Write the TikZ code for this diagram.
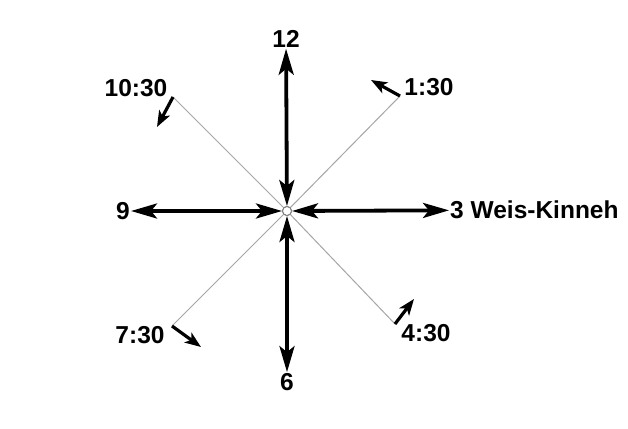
\documentclass[tikz,border=0pt]{standalone}
\usepackage{fontspec}
\setmainfont{Liberation Sans}
\usetikzlibrary{arrows.meta}

\begin{document}
\begin{tikzpicture}[x=1pt, y=-1pt,
    lbl/.style={font=\fontsize{24.5}{24.5}\selectfont\bfseries, inner sep=1pt},
    axis/.style={line width=3.8pt, {Stealth[length=26pt,width=15pt,inset=6pt]}-{Stealth[length=26pt,width=15pt,inset=6pt]}},
    diag/.style={gray!70, line width=1pt},
    hint/.style={line width=3.2pt, -{Stealth[length=16pt,width=12pt,inset=4pt]}}]
  \useasboundingbox[fill=white] (0,0) rectangle (628,428);
  \node[circle, draw=gray, line width=1pt, fill=white, minimum size=9pt, inner sep=0pt] (c) at (287,211) {};
  \node[lbl] (n12) at (286,39) {12};
  \node[lbl] (n6) at (287,382) {6};
  \node[lbl, anchor=east] (n9) at (131,211) {9};
  \node[lbl, anchor=west] (n3) at (449,210) {3 Weis-Kinneh};
  \node[lbl] (n1030) at (136,88) {10:30};
  \node[lbl] (n130) at (429,87) {1:30};
  \node[lbl] (n730) at (140,335) {7:30};
  \node[lbl] (n430) at (426,333) {4:30};
  \coordinate (d1030) at (173,97);
  \coordinate (d130) at (400,96);
  \coordinate (d730) at (172,326);
  \coordinate (d430) at (395,324);
  \coordinate (a1030) at (157,127);
  \coordinate (a130) at (371,80);
  \coordinate (a730) at (201,347);
  \coordinate (a430) at (414,299);
  \foreach \d in {d1030,d130,d730,d430}
    \draw[diag] (c) -- (\d);
  \foreach \d/\a in {d1030/a1030,d130/a130,d730/a730,d430/a430}
    \draw[hint] (\d) -- (\a);
  \draw[axis] (c) -- (n12);
  \draw[axis] (c) -- (n6);
  \draw[axis] (c) -- (n9);
  \draw[axis] (c) -- (n3);
  \node[circle, draw=gray, line width=1pt, fill=white, minimum size=9pt, inner sep=0pt] at (c) {};
\end{tikzpicture}
\end{document}
